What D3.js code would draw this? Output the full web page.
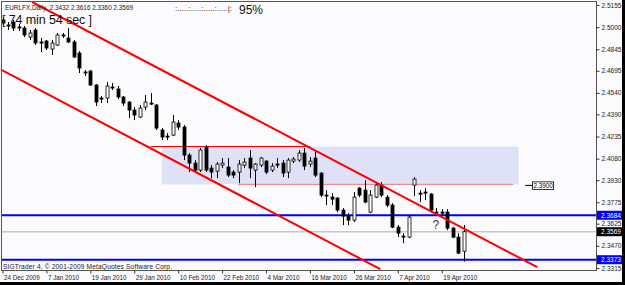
<!DOCTYPE html>
<html>
<head>
<meta charset="utf-8">
<script src="https://cdn.jsdelivr.net/npm/d3@7"></script>
<style>
  body { margin: 0; background: #fbfbfd; }
  svg { display: block; }
  text { font-family: "Liberation Sans", Arial, sans-serif; white-space: pre; }
</style>
</head>
<body>
<script>
// daily EURLFX bars, oldest first
let opens = [
  2.5050, 2.5015, 2.5036, 2.5001, 2.4994, 2.4931, 2.4980, 2.4896, 2.4903, 2.4847,
  2.4875, 2.4945, 2.4924, 2.4896, 2.4819, 2.4686, 2.4693, 2.4595, 2.4504, 2.4504,
  2.4581, 2.4567, 2.4511, 2.4476, 2.4420, 2.4371, 2.4441, 2.4469, 2.4455, 2.4280,
  2.4238, 2.4245, 2.4329, 2.4301, 2.4105, 2.4049, 2.4000, 2.4161, 2.4014, 2.3993,
  2.4035, 2.4021, 2.3986, 2.3986, 2.4035, 2.4084, 2.4000, 2.4035, 2.4063, 2.4000,
  2.4042, 2.4049, 2.3986, 2.4063, 2.4070, 2.4119, 2.4042, 2.4084, 2.3979, 2.3825,
  2.3811, 2.3804, 2.3720, 2.3678, 2.3650, 2.3874, 2.3860, 2.3706, 2.3811, 2.3895,
  2.3811, 2.3755, 2.3601, 2.3538, 2.3531, 2.3895, 2.3839, 2.3846, 2.3832, 2.3706,
  2.3706, 2.3706, 2.3594, 2.3531, 2.3432
];
let highs = [
  2.5064, 2.5036, 2.5050, 2.5022, 2.5008, 2.4980, 2.4994, 2.4924, 2.4910, 2.4910,
  2.4959, 2.4959, 2.4994, 2.4910, 2.4833, 2.4700, 2.4700, 2.4602, 2.4518, 2.4616,
  2.4609, 2.4588, 2.4518, 2.4483, 2.4441, 2.4455, 2.4525, 2.4539, 2.4462, 2.4294,
  2.4259, 2.4385, 2.4350, 2.4315, 2.4119, 2.4070, 2.4154, 2.4175, 2.4035, 2.4056,
  2.4084, 2.4084, 2.4000, 2.4070, 2.4084, 2.4140, 2.4049, 2.4091, 2.4070, 2.4049,
  2.4084, 2.4070, 2.4084, 2.4091, 2.4140, 2.4154, 2.4091, 2.4140, 2.3986, 2.3860,
  2.3839, 2.3811, 2.3734, 2.3699, 2.3846, 2.3881, 2.3930, 2.3860, 2.3916, 2.3916,
  2.3825, 2.3769, 2.3615, 2.3559, 2.3685, 2.3951, 2.3860, 2.3874, 2.3839, 2.3734,
  2.3727, 2.3727, 2.3601, 2.3559, 2.3616
];
let lows = [
  2.5015, 2.4980, 2.4973, 2.4973, 2.4931, 2.4910, 2.4875, 2.4826, 2.4840, 2.4805,
  2.4868, 2.4924, 2.4889, 2.4784, 2.4679, 2.4658, 2.4588, 2.4448, 2.4469, 2.4469,
  2.4560, 2.4497, 2.4448, 2.4364, 2.4350, 2.4364, 2.4420, 2.4455, 2.4280, 2.4210,
  2.4210, 2.4238, 2.4280, 2.4070, 2.3986, 2.3986, 2.3986, 2.3986, 2.3944, 2.3944,
  2.4014, 2.3951, 2.3944, 2.3909, 2.4014, 2.3944, 2.3881, 2.4021, 2.3972, 2.3986,
  2.4014, 2.3951, 2.3944, 2.4049, 2.4056, 2.4000, 2.4021, 2.3951, 2.3811, 2.3755,
  2.3755, 2.3706, 2.3615, 2.3615, 2.3636, 2.3811, 2.3769, 2.3699, 2.3804, 2.3811,
  2.3741, 2.3594, 2.3531, 2.3489, 2.3524, 2.3818, 2.3776, 2.3790, 2.3706, 2.3685,
  2.3685, 2.3580, 2.3524, 2.3412, 2.3360
];
let closes = [
  2.5029, 2.5008, 2.4994, 2.4994, 2.4945, 2.4959, 2.4889, 2.4889, 2.4854, 2.4889,
  2.4945, 2.4938, 2.4896, 2.4791, 2.4714, 2.4679, 2.4595, 2.4476, 2.4497, 2.4588,
  2.4574, 2.4511, 2.4469, 2.4420, 2.4385, 2.4434, 2.4476, 2.4462, 2.4294, 2.4231,
  2.4231, 2.4336, 2.4301, 2.4105, 2.4049, 2.4000, 2.4140, 2.4000, 2.3986, 2.4042,
  2.4049, 2.3965, 2.3965, 2.4042, 2.4056, 2.4014, 2.4042, 2.4084, 2.3986, 2.4028,
  2.4035, 2.3979, 2.4070, 2.4077, 2.4119, 2.4028, 2.4063, 2.3965, 2.3825, 2.3818,
  2.3797, 2.3720, 2.3678, 2.3650, 2.3811, 2.3825, 2.3776, 2.3825, 2.3895, 2.3825,
  2.3755, 2.3601, 2.3559, 2.3531, 2.3671, 2.3937, 2.3832, 2.3839, 2.3720, 2.3699,
  2.3699, 2.3594, 2.3531, 2.3419, 2.3569
];

let priceTicks = [2.5155, 2.5000, 2.4845, 2.4695, 2.4540, 2.4390, 2.4235, 2.4080, 2.3930, 2.3775, 2.3625, 2.3470, 2.3315];
let dateTickBars = [0, 8, 16, 24, 32, 40, 48, 56, 64, 72, 80];
let dateTickLabels = ['24 Dec 2009', '7 Jan 2010', '19 Jan 2010', '29 Jan 2010', '10 Feb 2010', '22 Feb 2010',
                      '4 Mar 2010', '16 Mar 2010', '26 Mar 2010', '7 Apr 2010', '19 Apr 2010'];

// drawn objects: [bar, price] anchors
let upperChannel = [[5.4, 2.5176], [97.4, 2.3321]];
let lowerChannel = [[-0.1, 2.4700], [68.8, 2.3307]];
let zoneBars = [29, 94];
let zonePrices = [2.4165, 2.3900];
let resistLine = { from: 27, to: 56, price: 2.4165 };
let targetLine = { from: 43, to: 93, price: 2.3900 };
let blueLevels = [2.3684, 2.3373];
let lastPrice = 2.3569;
let questionMark = { bar: 78.3, price: 2.3590 };

let W = 625, H = 285;
let plot = { left: 2, right: 596, top: 2, bottom: 270 };

let svg = d3.select('body').append('svg').attr('width', W).attr('height', H);

let x = d3.scaleLinear().domain([0, 84]).range([2.5, 463.7]);
let y = d3.scaleLinear().domain([2.3315, 2.5155]).range([268, 5]);

svg.append('rect').attr('width', W).attr('height', H).attr('fill', '#fbfbfd');

svg.append('clipPath').attr('id', 'plotclip')
  .append('rect')
  .attr('x', plot.left).attr('y', plot.top)
  .attr('width', plot.right - plot.left).attr('height', plot.bottom - plot.top);

let g = svg.append('g').attr('clip-path', 'url(#plotclip)');

// background zone
g.append('rect')
  .attr('x', x(zoneBars[0]))
  .attr('y', y(zonePrices[0]))
  .attr('width', x(zoneBars[1]) - x(zoneBars[0]))
  .attr('height', y(zonePrices[1]) - y(zonePrices[0]))
  .attr('fill', '#dfe2f6');

// current price line
g.append('line')
  .attr('x1', plot.left).attr('x2', plot.right)
  .attr('y1', y(lastPrice)).attr('y2', y(lastPrice))
  .attr('stroke', '#c8c8c8').attr('stroke-width', 1.5);

// blue levels
g.selectAll('.level').data(blueLevels).enter().append('line')
  .attr('class', 'level')
  .attr('x1', plot.left).attr('x2', plot.right)
  .attr('y1', d => y(d)).attr('y2', d => y(d))
  .attr('stroke', '#0000ff').attr('stroke-width', 2);

// horizontal red lines
g.append('line')
  .attr('x1', x(resistLine.from)).attr('x2', x(resistLine.to))
  .attr('y1', y(resistLine.price)).attr('y2', y(resistLine.price))
  .attr('stroke', '#ff0000').attr('stroke-width', 1);
g.append('line')
  .attr('x1', x(targetLine.from)).attr('x2', x(targetLine.to))
  .attr('y1', y(targetLine.price)).attr('y2', y(targetLine.price))
  .attr('stroke', '#ff0000').attr('stroke-width', 1)
  .attr('stroke-dasharray', '1,1');

// candles
let bars = d3.range(opens.length).map(i => ({
  i: i, o: opens[i], h: highs[i], l: lows[i], c: closes[i]
}));
let bodyW = 3;

let candle = g.selectAll('.candle').data(bars).enter().append('g').attr('class', 'candle');
candle.append('line')
  .attr('x1', d => Math.round(x(d.i)) + 0.5).attr('x2', d => Math.round(x(d.i)) + 0.5)
  .attr('y1', d => y(d.h)).attr('y2', d => y(d.l))
  .attr('stroke', '#000').attr('stroke-width', 1);
candle.append('rect')
  .attr('x', d => Math.round(x(d.i)) - 1)
  .attr('y', d => y(Math.max(d.o, d.c)))
  .attr('width', bodyW)
  .attr('height', d => Math.max(1, Math.abs(y(d.o) - y(d.c))))
  .attr('fill', d => d.c >= d.o ? '#ffffff' : '#000000')
  .attr('stroke', '#000').attr('stroke-width', 0.8);

// channel lines
let line = d3.line().x(d => x(d[0])).y(d => y(d[1]));
g.selectAll('.channel').data([upperChannel, lowerChannel]).enter().append('path')
  .attr('class', 'channel')
  .attr('d', line)
  .attr('fill', 'none')
  .attr('stroke', '#ff0000').attr('stroke-width', 2);

// question mark
g.append('text')
  .attr('x', x(questionMark.bar)).attr('y', y(questionMark.price))
  .attr('font-size', 12).attr('fill', '#333')
  .text('?');

// plot border
svg.append('rect')
  .attr('x', plot.left - 0.5).attr('y', plot.top - 0.5)
  .attr('width', plot.right - plot.left + 1).attr('height', plot.bottom - plot.top + 1)
  .attr('fill', 'none').attr('stroke', '#555');

// price axis
let yAxis = d3.axisRight(y).tickValues(priceTicks).tickSize(3).tickPadding(2).tickFormat(d3.format('.4f'));
let yAxisGroup = svg.append('g').attr('transform', `translate(${plot.right + 0.5},0)`).call(yAxis);
yAxisGroup.select('.domain').remove();
yAxisGroup.selectAll('text').attr('font-size', 6.5).attr('fill', '#222').attr('font-family', null);
yAxisGroup.selectAll('line').attr('stroke', '#333');

// date axis
let xAxis = d3.axisBottom(x).tickValues(dateTickBars).tickSize(3).tickPadding(2.5)
  .tickFormat((d, i) => dateTickLabels[i]);
let xAxisGroup = svg.append('g').attr('transform', `translate(0,${plot.bottom + 0.5})`).call(xAxis);
xAxisGroup.select('.domain').remove();
xAxisGroup.selectAll('text').attr('font-size', 6.3).attr('fill', '#222')
  .attr('text-anchor', 'start').attr('dx', 1).attr('font-family', null);
xAxisGroup.selectAll('line').attr('stroke', '#333');

// price tags
let tags = svg.selectAll('.tag').data([
  { v: blueLevels[0], bg: '#0000ff' },
  { v: lastPrice, bg: '#000000' },
  { v: blueLevels[1], bg: '#0000ff' }
]).enter().append('g').attr('class', 'tag');
tags.append('rect')
  .attr('x', plot.right + 1).attr('y', d => y(d.v) - 4.5)
  .attr('width', 25).attr('height', 9)
  .attr('fill', d => d.bg);
tags.append('text')
  .attr('x', plot.right + 5).attr('y', d => y(d.v))
  .attr('dy', '0.35em')
  .attr('font-size', 6.5).attr('fill', '#fff')
  .text(d => d3.format('.4f')(d.v));

// 2.3900 label
let ty = y(targetLine.price) + 1;
svg.append('line')
  .attr('x1', x(targetLine.to) + 12).attr('x2', x(targetLine.to) + 19)
  .attr('y1', ty).attr('y2', ty).attr('stroke', '#000');
svg.append('rect')
  .attr('x', x(targetLine.to) + 19.5).attr('y', ty - 3.5)
  .attr('width', 21).attr('height', 7.5)
  .attr('fill', '#fff').attr('stroke', '#000').attr('stroke-width', 0.8);
svg.append('text')
  .attr('x', x(targetLine.to) + 20.5).attr('y', ty).attr('dy', '0.35em')
  .attr('font-size', 6.3).attr('fill', '#000')
  .text(d3.format('.4f')(targetLine.price));

// header texts
svg.append('text').attr('x', 5).attr('y', 9.5).attr('font-size', 6.4).attr('fill', '#222')
  .attr('textLength', 128)
  .text('EURLFX,Daily  2.3432 2.3616 2.3360 2.3569');
svg.append('text').attr('x', 2).attr('y', 24).attr('font-size', 12.5).attr('fill', '#111')
  .attr('textLength', 90)
  .text('[ 74 min 54 sec ]');
svg.append('text').attr('x', 175).attr('y', 11).attr('font-size', 8).attr('fill', '#222')
  .attr('textLength', 57)
  .text(':.....:.....:.....:.....|:');
svg.append('text').attr('x', 239).attr('y', 13.5).attr('font-size', 12).attr('fill', '#111')
  .text('95%');
svg.append('text').attr('x', 3).attr('y', 268.5).attr('font-size', 6.6).attr('fill', '#222')
  .attr('textLength', 169)
  .text('SIGTrader 4, \u00a9 2001-2009 MetaQuotes Software Corp.');

// window edges
svg.append('rect').attr('x', 0).attr('y', 282).attr('width', W).attr('height', 3).attr('fill', '#000');
svg.append('rect').attr('x', 622).attr('y', 0).attr('width', 3).attr('height', H).attr('fill', '#000');
</script>
</body>
</html>
